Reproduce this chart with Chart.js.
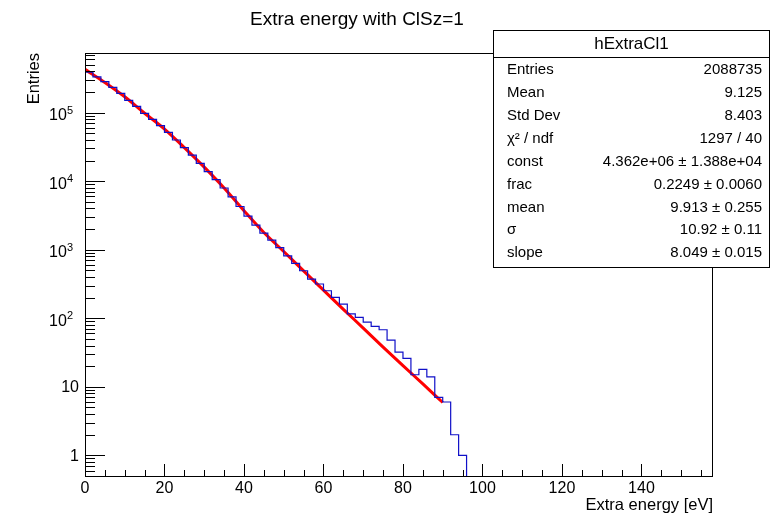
<!DOCTYPE html>
<html>
<head>
<meta charset="utf-8">
<script src="https://cdn.jsdelivr.net/npm/chart.js@4"></script>
<style>
  html, body { margin: 0; padding: 0; background: #fff; }
  canvas { display: block; }
</style>
</head>
<body>
<canvas id="hist" width="770" height="517"></canvas>
<script>
// Histogram bins (lower edges, width 2 eV) and entries; last bin is empty
const binLow = [0, 2, 4, 6, 8, 10, 12, 14, 16, 18, 20, 22, 24, 26, 28, 30, 32, 34, 36, 38,
  40, 42, 44, 46, 48, 50, 52, 54, 56, 58, 60, 62, 64, 66, 68, 70, 72, 74, 76, 78,
  80, 82, 84, 86, 88, 90, 92, 94, 96];
const counts = [3.89e5, 3.31e5, 2.82e5, 2.34e5, 1.91e5, 1.51e5, 1.23e5, 9.77e4, 7.94e4, 6.46e4,
  5.13e4, 3.98e4, 3.09e4, 2.40e4, 1.82e4, 1.38e4, 1.05e4, 7940, 5890, 4270,
  3090, 2290, 1740, 1380, 1070, 813, 631, 493, 373, 316,
  252, 201, 161, 116, 103, 88, 76, 68, 48, 32,
  26, 15, 18, 14, 7, 6, 2, 1, 0];

// Fit curve
const fitX = [0, 5, 10, 15, 20, 25, 30, 35, 40, 45, 50, 55, 60, 65, 70, 75, 80, 85, 90];
const fitY = [4.27e5, 2.75e5, 1.70e5, 9.77e4, 5.75e4, 3.09e4, 1.60e4, 7940, 3700, 1780,
  940, 490, 257, 135, 72, 38, 20.4, 11, 5.9];

// Axis ranges and ticks
const xMin = 0, xMax = 158;
const yMin = 0.5, yMax = 7.4e5;
const xTicks = [0, 20, 40, 60, 80, 100, 120, 140];
const yTicks = [1, 10, 100, 1000, 10000, 100000];
const yTickExp = [null, null, 2, 3, 4, 5];

// Stats box
const statsTitle = "hExtraCl1";
const statLabels = ["Entries", "Mean", "Std Dev", "χ² / ndf", "const", "frac", "mean", "σ", "slope"];
const statValues = ["2088735", "9.125", "8.403", "1297 / 40", "4.362e+06 ± 1.388e+04",
  "0.2249 ± 0.0060", "9.913 ± 0.255", "10.92 ± 0.11", "8.049 ± 0.015"];

const FONT = '"Liberation Sans", Arial, Helvetica, sans-serif';

// ROOT style frame, inward ticks, labels, title and stats box
const rootStyle = {
  id: "rootStyle",
  afterDatasetsDraw(chart) {
    const { ctx, chartArea: a, scales: { x, y } } = chart;
    ctx.save();
    ctx.strokeStyle = "#000";
    ctx.fillStyle = "#000";
    ctx.lineWidth = 1;
    ctx.strokeRect(a.left + 0.5, a.top + 0.5, a.right - a.left - 1, a.bottom - a.top);

    // x ticks: major every 20, minor every 5
    ctx.beginPath();
    for (let v = 0; v <= x.max; v += 5) {
      const px = Math.round(x.getPixelForValue(v)) + 0.5;
      const len = v % 20 === 0 ? 12 : 6;
      ctx.moveTo(px, a.bottom);
      ctx.lineTo(px, a.bottom - len);
    }
    // y ticks: decades long, 2..9 short
    for (let d = 0.1; d <= 1e5; d *= 10) {
      for (let k = 1; k <= 9; k++) {
        const v = k * d;
        if (v < y.min || v > y.max) continue;
        const py = Math.round(y.getPixelForValue(v)) + 0.5;
        const len = k === 1 ? 20 : 10;
        ctx.moveTo(a.left, py);
        ctx.lineTo(a.left + len, py);
      }
    }
    ctx.stroke();

    // x labels
    ctx.font = "16px " + FONT;
    ctx.textAlign = "center";
    ctx.textBaseline = "middle";
    xTicks.forEach(v => ctx.fillText(String(v), x.getPixelForValue(v), a.bottom + 13));

    // y labels
    yTicks.forEach((v, i) => {
      const py = y.getPixelForValue(v);
      if (yTickExp[i] === null) {
        ctx.font = "16px " + FONT;
        ctx.textAlign = "right";
        ctx.fillText(String(v), 79, py + 1);
      } else {
        ctx.font = "11px " + FONT;
        ctx.textAlign = "right";
        ctx.fillText(String(yTickExp[i]), 73, py - 2);
        const w = ctx.measureText(String(yTickExp[i])).width;
        ctx.font = "16px " + FONT;
        ctx.fillText("10", 73 - w, py + 3);
      }
    });

    // axis titles
    ctx.font = "16.5px " + FONT;
    ctx.textAlign = "right";
    ctx.fillText("Extra energy [eV]", a.right, a.bottom + 29);
    ctx.save();
    ctx.translate(34, a.top);
    ctx.rotate(-Math.PI / 2);
    ctx.fillText("Entries", 0, 0);
    ctx.restore();

    // histogram title
    ctx.font = "19px " + FONT;
    ctx.textAlign = "center";
    ctx.fillText("Extra energy with ClSz=1", 357, 20);

    // stats box
    const bx = 493.5, by = 30.5, bw = 276, bh = 237;
    ctx.fillStyle = "#fff";
    ctx.fillRect(bx, by, bw, bh);
    ctx.strokeRect(bx, by, bw, bh);
    ctx.beginPath();
    ctx.moveTo(bx, 57.5);
    ctx.lineTo(bx + bw, 57.5);
    ctx.stroke();
    ctx.fillStyle = "#000";
    ctx.font = "17px " + FONT;
    ctx.textAlign = "center";
    ctx.fillText(statsTitle, bx + bw / 2, 44);
    ctx.font = "15px " + FONT;
    statLabels.forEach((lab, i) => {
      const ry = 70 + i * 22.9;
      ctx.textAlign = "left";
      ctx.fillText(lab, 507, ry);
      ctx.textAlign = "right";
      ctx.fillText(statValues[i], 762, ry);
    });
    ctx.restore();
  }
};

new Chart(document.getElementById("hist"), {
  type: "line",
  data: {
    datasets: [{
      label: "hExtraCl1",
      // empty bins sit on the axis floor, as ROOT draws them
      data: binLow.map((b, i) => ({ x: b, y: counts[i] > 0 ? counts[i] : yMin })),
      stepped: "before",
      borderColor: "#1010c8",
      borderWidth: 1.2,
      pointRadius: 0,
      fill: false
    }, {
      label: "fit",
      data: fitX.map((v, i) => ({ x: v, y: fitY[i] })),
      borderColor: "#ff0000",
      borderWidth: 3,
      pointRadius: 0,
      cubicInterpolationMode: "monotone",
      fill: false
    }]
  },
  options: {
    responsive: false,
    animation: false,
    devicePixelRatio: 1,
    layout: { padding: { left: 85, right: 57, top: 53, bottom: 41 } },
    plugins: { legend: { display: false }, tooltip: { enabled: false } },
    scales: {
      x: { type: "linear", min: xMin, max: xMax, display: false },
      y: { type: "logarithmic", min: yMin, max: yMax, display: false }
    }
  },
  plugins: [rootStyle]
});
</script>
</body>
</html>
